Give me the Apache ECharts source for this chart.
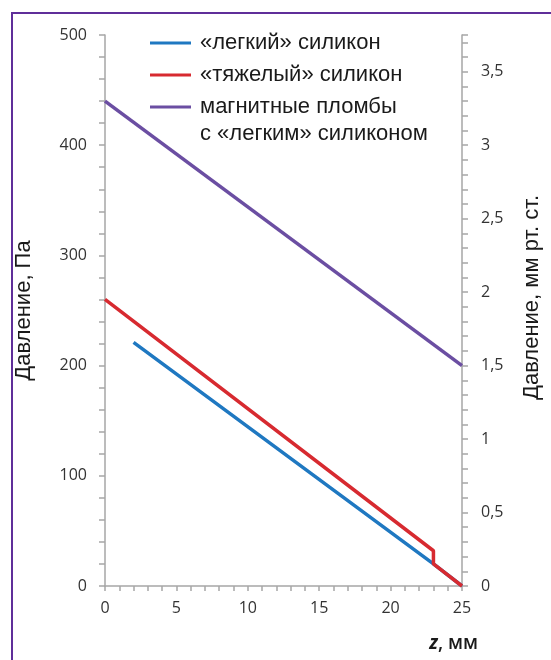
<!DOCTYPE html>
<html>
<head>
<meta charset="utf-8">
<script src="https://cdn.jsdelivr.net/npm/echarts@6/dist/echarts.min.js"></script>
<style>
html,body{margin:0;padding:0;background:#fff;overflow:hidden;}
#wrap{position:relative;width:551px;height:660px;overflow:hidden;}
#chart{position:absolute;left:0;top:0;width:551px;height:660px;}
#frame{position:absolute;left:11px;top:12px;width:1000px;height:1000px;border-left:2.5px solid #5f2e99;border-top:2.5px solid #5f2e99;pointer-events:none;}
</style>
</head>
<body>
<div id="wrap"><div id="chart"></div><div id="frame"></div></div>
<script>
// ---- data ----
const seriesNames = ['«легкий» силикон', '«тяжелый» силикон', 'магнитные пломбы'];
const legendSecondLine = 'с «легким» силиконом';
const lightSilicone = [[2, 221], [23, 20], [25, 0]];
const heavySilicone = [[0, 260], [23, 32], [23, 20], [25, 0]];
const magneticSeals = [[0, 440], [25, 200]];
const xTickLabels = [0, 5, 10, 15, 20, 25];
const leftTickLabels = [0, 100, 200, 300, 400, 500];
const rightTickLabels = [0, 0.5, 1, 1.5, 2, 2.5, 3, 3.5];
const xName = 'z, мм';
const leftName = 'Давление, Па';
const rightName = 'Давление, мм рт. ст.';
const PA_PER_MMHG = 133.322;

const chart = echarts.init(document.getElementById('chart'), null, {renderer: 'canvas'});
const axisColor = '#a6a6a6';
const labelColor = '#333333';
const labelFont = 'Open Sans';
const textFont = 'Liberation Sans';

function near(v, arr) { return arr.some(a => Math.abs(a - v) < 1e-6); }

const option = {
  animation: false,
  backgroundColor: '#fff',
  grid: {left: 105, right: 82, top: 35, bottom: 74, containLabel: false},
  legend: {
    orient: 'vertical',
    left: 145,
    top: 27,
    itemWidth: 41,
    itemHeight: 3,
    itemGap: 10,
    icon: 'rect',
    data: seriesNames,
    textStyle: {fontFamily: textFont, fontSize: 22, color: '#1a1a1a', lineHeight: 20, padding: [0, 0, 0, 4]}
  },
  xAxis: {
    type: 'value', min: 0, max: 25, interval: 1,
    axisLine: {show: true, lineStyle: {color: axisColor, width: 1.5}},
    axisTick: {show: true, inside: false, length: 5, lineStyle: {color: axisColor, width: 1.5}},
    splitLine: {show: false},
    axisLabel: {
      margin: 14, color: labelColor, fontFamily: labelFont, fontSize: 16,
      formatter: v => near(v, xTickLabels) ? String(Math.round(v)) : ''
    }
  },
  yAxis: [
    {
      type: 'value', min: 0, max: 500, interval: 20, position: 'left',
      name: leftName, nameLocation: 'middle', nameGap: 70, nameRotate: 90,
      nameTextStyle: {fontFamily: textFont, fontSize: 22, color: '#1a1a1a'},
      axisLine: {show: true, lineStyle: {color: axisColor, width: 1.5}},
      axisTick: {show: true, inside: false, length: 6, lineStyle: {color: axisColor, width: 1.5}},
      splitLine: {show: false},
      axisLabel: {
        margin: 18, color: labelColor, fontFamily: labelFont, fontSize: 16,
        formatter: v => near(v, leftTickLabels) ? String(Math.round(v)) : ''
      }
    },
    {
      type: 'value', min: 0, max: 500 / PA_PER_MMHG, interval: 0.1, position: 'right',
      name: rightName, nameLocation: 'middle', nameGap: 59, nameRotate: 90,
      nameTextStyle: {fontFamily: textFont, fontSize: 22, color: '#1a1a1a', padding: [0, 0, 0, 26]},
      axisLine: {show: true, onZero: false, lineStyle: {color: axisColor, width: 1.5}},
      axisTick: {show: true, inside: false, length: 6, lineStyle: {color: axisColor, width: 1.5}},
      splitLine: {show: false},
      axisLabel: {
        margin: 19, color: labelColor, fontFamily: labelFont, fontSize: 16,
        formatter: v => near(v, rightTickLabels) ? String(Math.round(v * 10) / 10).replace('.', ',') : ''
      }
    }
  ],
  series: [
    {name: seriesNames[0], type: 'line', yAxisIndex: 0, data: lightSilicone, symbol: 'none',
     lineStyle: {color: '#1f78c1', width: 3.5}, itemStyle: {color: '#1f78c1'}, z: 2},
    {name: seriesNames[1], type: 'line', yAxisIndex: 0, data: heavySilicone, symbol: 'none',
     lineStyle: {color: '#d72a30', width: 3.5}, itemStyle: {color: '#d72a30'}, z: 3},
    {name: seriesNames[2], type: 'line', yAxisIndex: 0, data: magneticSeals, symbol: 'none',
     lineStyle: {color: '#6b4ea2', width: 3.5}, itemStyle: {color: '#6b4ea2'}, z: 2}
  ],
  graphic: [
    {type: 'text', left: 200, top: 123, silent: true,
     style: {text: legendSecondLine, fontFamily: textFont, fontSize: 22, fill: '#1a1a1a'}},
    {type: 'text', right: 551 - 478, top: 634, silent: true,
     style: {
       text: '{z|z}{r|, мм}',
       rich: {
         z: {fontFamily: 'Open Sans', fontSize: 19, fontStyle: 'italic', fontWeight: 'bold', fill: '#1a1a1a'},
         r: {fontFamily: 'Open Sans', fontSize: 19, fontWeight: 600, fill: '#1a1a1a'}
       }
     }}
  ]
};
chart.setOption(option);
</script>
</body>
</html>
